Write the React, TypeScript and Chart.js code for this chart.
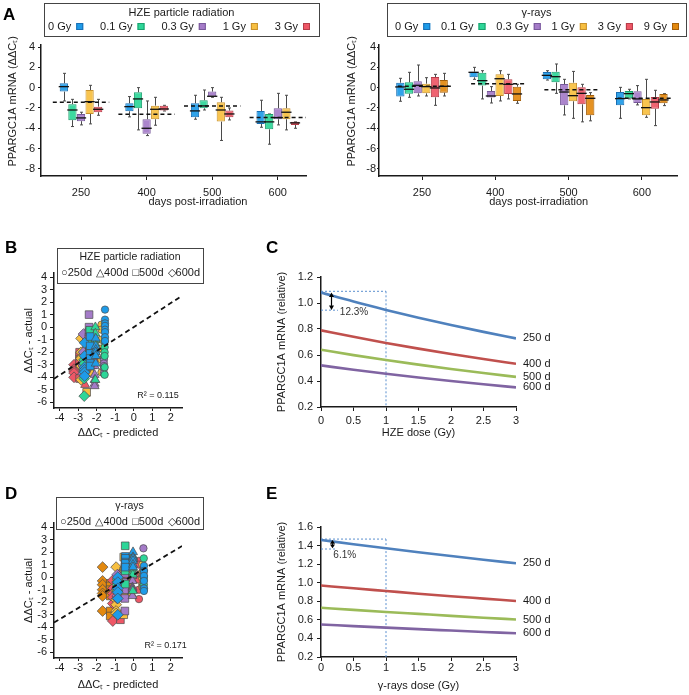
import React, { useEffect, useRef } from 'react';
import { Chart, registerables } from 'chart.js';

Chart.register(...registerables);

const FONT = "'Liberation Sans', Arial, Helvetica, sans-serif";
const INK = '#1a1a1a';

// ---------------- data ----------------
const DAYS = ['250', '400', '500', '600'];
const HZE_DOSES = ['0 Gy', '0.1 Gy', '0.3 Gy', '1 Gy', '3 Gy'];
const GAMMA_DOSES = ['0 Gy', '0.1 Gy', '0.3 Gy', '1 Gy', '3 Gy', '9 Gy'];

// box statistics per day (250, 400, 500, 600): [min, q1, median, q3, max]
const HZE_BOX_0 = [[-1.31, -0.39, 0.1, 0.43, 1.41], [-2.88, -2.33, -1.87, -1.54, -0.88], [-3.11, -2.92, -2.29, -1.54, -0.75], [-3.9, -3.57, -3.37, -2.29, -1.24]];
const HZE_BOX_01 = [[-3.83, -3.2, -2.2, -1.63, -1.15], [-4.16, -2.03, -1.11, -0.46, 0.0], [-2.2, -2.03, -1.8, -1.24, -0.23], [-5.57, -4.1, -3.37, -2.59, -2.59]];
const HZE_BOX_03 = [[-3.67, -3.3, -2.98, -2.59, -2.42], [-4.72, -4.55, -4.0, -3.11, -1.31], [-0.95, -0.88, -0.85, -0.39, 0.0], [-3.67, -3.11, -2.95, -2.03, -0.56]];
const HZE_BOX_1 = [[-3.57, -2.59, -1.38, -0.23, 0.23], [-3.7, -3.11, -2.13, -1.77, -0.95], [-5.2, -3.34, -2.2, -1.44, -0.95], [-4.16, -3.11, -2.42, -2.03, -0.75]];
const HZE_BOX_3 = [[-2.72, -2.42, -2.13, -1.87, -1.15], [-2.3, -2.26, -2.1, -1.77, -1.74], [-3.18, -2.92, -2.59, -2.26, -2.0], [-4.0, -3.67, -3.47, -3.37, -3.37]];
const HZE_BOXES = [HZE_BOX_0, HZE_BOX_01, HZE_BOX_03, HZE_BOX_1, HZE_BOX_3];
const HZE_MEAN = [-1.44, -2.62, -1.8, -2.95];

const GAMMA_BOX_0 = [[-1.34, -0.88, 0.07, 0.49, 0.92], [0.82, 1.02, 1.51, 1.57, 2.0], [0.75, 0.82, 1.21, 1.54, 1.67], [-3.02, -1.74, -1.08, -0.43, 0.03]];
const GAMMA_BOX_01 = [[-0.95, -0.59, -0.16, 0.52, 1.51], [-1.11, 0.2, 0.69, 1.47, 1.67], [-0.56, 0.52, 1.08, 1.57, 2.33], [-1.11, -1.05, -0.59, -0.33, -0.16]];
const GAMMA_BOX_03 = [[-0.82, -0.56, 0.23, 0.62, 2.23], [-1.51, -0.98, -0.82, -0.33, 0.1], [-2.69, -1.74, -0.43, 0.36, 0.82], [-1.7, -1.51, -1.11, -0.36, 0.2]];
const GAMMA_BOX_1 = [[-0.82, -0.56, 0.1, 0.39, 0.98], [-1.31, -0.82, 0.88, 1.31, 1.67], [-3.02, -1.34, -0.79, 0.49, 1.6], [-2.92, -2.72, -1.97, -1.11, 0.82]];
const GAMMA_BOX_3 = [[-1.74, -0.95, -0.03, 1.05, 1.31], [-1.11, -0.62, 0.33, 0.82, 1.31], [-3.37, -1.64, -0.56, 0.03, 0.33], [-3.74, -2.07, -1.41, -0.92, -0.26]];
const GAMMA_BOX_9 = [[-0.82, -0.49, 0.13, 0.75, 1.41], [-1.54, -1.31, -0.62, 0.1, 0.33], [-3.27, -2.72, -1.05, -0.72, -0.49], [-1.77, -1.54, -1.21, -0.62, -0.59]];
const GAMMA_BOXES = [GAMMA_BOX_0, GAMMA_BOX_01, GAMMA_BOX_03, GAMMA_BOX_1, GAMMA_BOX_3, GAMMA_BOX_9];
const GAMMA_MEAN = [0.13, 0.39, -0.2, -1.05];

// scatter: predicted value per dose, actual values per dose
const HZE_PRED_250 = [-1.55, -1.57, -1.61, -1.74, -2.12];
const HZE_PRED_400 = [-2.05, -2.07, -2.11, -2.24, -2.62];
const HZE_PRED_500 = [-2.35, -2.37, -2.41, -2.54, -2.92];
const HZE_PRED_600 = [-2.65, -2.67, -2.71, -2.84, -3.22];
const HZE_ACT_250 = [[1.4, 0.6, 0.3, 0.1, -0.2, -0.4, -0.8, -1.1], [-1.15, -1.6, -2.0, -2.3, -3.2, -3.8], [-2.4, -2.6, -2.9, -3.1, -3.3, -3.7], [0.2, -0.2, -1.0, -1.7, -2.6, -3.6], [-1.15, -1.9, -2.1, -2.2, -2.4, -2.7]];
const HZE_ACT_400 = [[-0.9, -1.5, -1.8, -2.0, -2.3, -2.9], [0.0, -0.5, -1.0, -1.3, -2.0, -4.2], [-1.3, -3.1, -3.8, -4.2, -4.5, -4.7], [-0.95, -1.8, -2.0, -2.3, -3.1, -3.7], [-1.75, -2.0, -2.15, -2.3, -4.6]];
const HZE_ACT_500 = [[-0.75, -1.5, -2.1, -2.5, -2.9, -3.1], [-0.25, -1.2, -1.7, -1.9, -2.0, -2.2], [1.0, 0.0, -0.4, -0.8, -0.95], [-0.95, -1.4, -2.0, -2.4, -3.3, -5.2], [-2.0, -2.3, -2.6, -2.9, -4.1]];
const HZE_ACT_600 = [[-1.25, -2.3, -3.2, -3.4, -3.6, -3.9], [-2.6, -2.9, -3.3, -3.5, -4.1, -5.5], [-0.55, -2.0, -2.8, -3.0, -3.1, -3.7], [-0.9, -2.0, -2.4, -2.5, -3.1, -4.2], [-3.0, -3.35, -3.5, -3.65, -4.0]];
const HZE_PRED = [HZE_PRED_250, HZE_PRED_400, HZE_PRED_500, HZE_PRED_600];
const HZE_ACT = [HZE_ACT_250, HZE_ACT_400, HZE_ACT_500, HZE_ACT_600];
const HZE_FIT_X = [-4.3, 2.6];
const HZE_FIT_Y = [-4.12, 2.5];
const HZE_R2 = 'R² = 0.115';

const GAMMA_PRED_250 = [0.55, 0.54, 0.52, 0.46, 0.28, -0.27];
const GAMMA_PRED_400 = [-0.04, -0.05, -0.07, -0.13, -0.31, -0.86];
const GAMMA_PRED_500 = [-0.45, -0.46, -0.48, -0.54, -0.72, -1.27];
const GAMMA_PRED_600 = [-0.86, -0.87, -0.89, -0.95, -1.13, -1.68];
const GAMMA_ACT_250 = [[0.9, 0.5, 0.1, -0.3, -0.9, -1.1], [1.5, 0.5, 0.0, -0.2, -0.6, -0.95], [2.3, 0.6, 0.3, 0.1, -0.6, -0.8], [1.0, 0.4, 0.1, -0.1, -0.6, -0.8], [1.3, 1.0, 0.2, -0.2, -1.0, -1.75], [1.4, 0.75, 0.2, 0.0, -0.5, -0.8]];
const GAMMA_ACT_400 = [[2.0, 1.6, 1.5, 1.3, 1.0, 0.8], [1.7, 1.4, 0.7, 0.4, 0.2, -1.1], [0.1, -0.3, -0.8, -0.9, -1.0, -1.5], [1.7, 1.3, 1.0, 0.5, -0.8, -1.3], [1.3, 0.8, 0.4, 0.1, -0.6, -1.1], [0.3, 0.1, -0.5, -0.8, -1.3, -1.55]];
const GAMMA_ACT_500 = [[1.65, 1.5, 1.2, 1.1, 0.8], [2.5, 1.5, 1.1, 0.9, 0.5, -0.55], [0.8, 0.3, -0.4, -1.0, -1.7, -2.7], [1.6, 0.5, -0.5, -0.9, -1.3, -3.0], [0.3, 0.0, -0.5, -0.9, -1.6, -3.4], [-0.5, -0.7, -1.0, -1.5, -2.7, -3.1]];
const GAMMA_ACT_600 = [[0.0, -0.4, -0.9, -1.2, -1.7, -3.0], [-0.15, -0.35, -0.6, -0.8, -1.1], [0.2, -0.4, -0.9, -1.2, -1.5, -1.7], [0.8, -1.1, -1.8, -2.2, -2.7, -2.9], [-0.25, -0.9, -1.3, -1.6, -2.1, -3.5], [0.8, -0.3, -0.6, -1.0, -1.3, -1.5, -2.7]];
const GAMMA_PRED = [GAMMA_PRED_250, GAMMA_PRED_400, GAMMA_PRED_500, GAMMA_PRED_600];
const GAMMA_ACT = [GAMMA_ACT_250, GAMMA_ACT_400, GAMMA_ACT_500, GAMMA_ACT_600];
const GAMMA_FIT_X = [-4.3, 2.6];
const GAMMA_FIT_Y = [-3.62, 2.48];
const GAMMA_R2 = 'R² = 0.171';

// dose–response curves
const DOSE_X = [0, 0.5, 1, 1.5, 2, 2.5, 3];
const HZE_REL_250 = [1.08, 1.011, 0.947, 0.887, 0.831, 0.778, 0.728];
const HZE_REL_400 = [0.79, 0.74, 0.693, 0.649, 0.608, 0.569, 0.533];
const HZE_REL_500 = [0.64, 0.599, 0.561, 0.526, 0.492, 0.461, 0.432];
const HZE_REL_600 = [0.52, 0.487, 0.456, 0.427, 0.4, 0.375, 0.351];
const HZE_REL = [HZE_REL_250, HZE_REL_400, HZE_REL_500, HZE_REL_600];
const HZE_DROP = '12.3%';
const GAMMA_REL_250 = [1.46, 1.415, 1.371, 1.328, 1.287, 1.247, 1.209];
const GAMMA_REL_400 = [0.97, 0.94, 0.911, 0.882, 0.855, 0.829, 0.803];
const GAMMA_REL_500 = [0.73, 0.707, 0.685, 0.664, 0.643, 0.623, 0.604];
const GAMMA_REL_600 = [0.55, 0.533, 0.516, 0.5, 0.485, 0.47, 0.455];
const GAMMA_REL = [GAMMA_REL_250, GAMMA_REL_400, GAMMA_REL_500, GAMMA_REL_600];
const GAMMA_DROP = '6.1%';

// ---------------- styles ----------------
const DOSE_FILL = ['#1E9BE8', '#2DD698', '#A47BC8', '#F7BF40', '#EE5766', '#E3890F'];
const DOSE_EDGE = ['#1A6FB4', '#1A9E6C', '#77589A', '#C8912B', '#B53D49', '#A5600A'];
const DAY_STYLE = ['circle', 'triangle', 'rect', 'rectRot'];
const DAY_RADIUS = [3.7, 5.2, 5.4, 5.4];
const DAY_GLYPH = ['○', '△', '□', '◇'];
const CURVE_COLORS = ['#4F81BD', '#C0504D', '#9BBB59', '#8064A2'];
const GUIDE_COLOR = '#5B8FCF';

function rgba(hex: string, a: number) {
  const n = parseInt(hex.slice(1), 16);
  return `rgba(${(n >> 16) & 255},${(n >> 8) & 255},${n & 255},${a})`;
}

type Area = { l: number; t: number; r: number; b: number };

function axisBase(tickLen: number, pad: number, size = 11) {
  return {
    border: { display: true, color: INK, width: 1.5 },
    grid: { display: true, drawOnChartArea: false, drawTicks: true, tickLength: tickLen, color: INK, lineWidth: 1, offset: false },
    ticks: { color: INK, padding: pad, font: { family: FONT, size }, includeBounds: false, autoSkip: false, maxRotation: 0, callback: (v: any) => String(v) },
  };
}
function yTitle(text: string, pad: number) {
  return { display: true, text, color: INK, font: { family: FONT, size: 11 }, padding: { top: pad, bottom: 0 } };
}
function xTitle(text: string) {
  return { display: true, text, color: INK, font: { family: FONT, size: 11 }, padding: { top: 0, bottom: 0 } };
}
function fixX(h: number) {
  return (s: any) => { s.height = h; s.paddingLeft = 0; s.paddingRight = 0; };
}
function fixY(w: number) {
  return (s: any) => { s.width = w; s.paddingTop = 0; s.paddingBottom = 0; };
}
function baseOptions(W: number, a: Area) {
  return {
    animation: false,
    responsive: false,
    events: [],
    layout: { padding: { left: 0, top: a.t, right: W - a.r, bottom: 0 } },
  };
}

// ---------------- plugins ----------------
const boxExtras = {
  id: 'boxExtras',
  beforeDatasetsDraw(chart: any) {
    const { ctx } = chart;
    const ys = chart.scales.y;
    ctx.save();
    ctx.strokeStyle = '#4a4a4a';
    ctx.lineWidth = 1;
    chart.data.datasets.forEach((ds: any, i: number) => {
      chart.getDatasetMeta(i).data.forEach((el: any, j: number) => {
        const s = ds.stats[j];
        const x = Math.round(el.x) + 0.5;
        ctx.beginPath();
        ctx.moveTo(x, ys.getPixelForValue(s[3]));
        ctx.lineTo(x, ys.getPixelForValue(s[4]));
        ctx.moveTo(x, ys.getPixelForValue(s[1]));
        ctx.lineTo(x, ys.getPixelForValue(s[0]));
        ctx.moveTo(x - 1.5, ys.getPixelForValue(s[4]));
        ctx.lineTo(x + 1.5, ys.getPixelForValue(s[4]));
        ctx.moveTo(x - 1.5, ys.getPixelForValue(s[0]));
        ctx.lineTo(x + 1.5, ys.getPixelForValue(s[0]));
        ctx.stroke();
      });
    });
    ctx.restore();
  },
  afterDatasetsDraw(chart: any, _a: any, opts: any) {
    const { ctx } = chart;
    const ys = chart.scales.y;
    const xs = chart.scales.x;
    ctx.save();
    ctx.strokeStyle = '#111';
    ctx.lineWidth = 1.3;
    chart.data.datasets.forEach((ds: any, i: number) => {
      chart.getDatasetMeta(i).data.forEach((el: any, j: number) => {
        const y = ys.getPixelForValue(ds.stats[j][2]);
        ctx.beginPath();
        ctx.moveTo(el.x - el.width / 2 - 1, y);
        ctx.lineTo(el.x + el.width / 2 + 1, y);
        ctx.stroke();
      });
    });
    const step = xs.getPixelForValue(1) - xs.getPixelForValue(0);
    ctx.setLineDash([4, 3]);
    ctx.lineWidth = 1.5;
    (opts.means || []).forEach((m: number, j: number) => {
      const cx = xs.getPixelForValue(j) + opts.shift * step;
      const y = ys.getPixelForValue(m);
      ctx.beginPath();
      ctx.moveTo(cx - opts.half * step, y);
      ctx.lineTo(cx + opts.half * step, y);
      ctx.stroke();
    });
    ctx.restore();
  },
};

const doseLegend = {
  id: 'doseLegend',
  afterDraw(chart: any, _a: any, o: any) {
    const { ctx } = chart;
    const [l, t, r, b] = o.box;
    ctx.save();
    ctx.fillStyle = '#fff';
    ctx.fillRect(l, t, r - l, b - t);
    ctx.strokeStyle = '#444';
    ctx.lineWidth = 1;
    ctx.strokeRect(l + 0.5, t + 0.5, r - l, b - t);
    ctx.font = `11px ${FONT}`;
    ctx.fillStyle = INK;
    ctx.textBaseline = 'middle';
    ctx.textAlign = 'center';
    ctx.fillText(o.title, (l + r) / 2, t + o.titleDy);
    const items = chart.data.datasets.map((d: any, i: number) => ({ label: d.label, fill: DOSE_FILL[i], edge: DOSE_EDGE[i] }));
    const sq = 7, gap = 5;
    const tw = items.map((it: any) => ctx.measureText(it.label).width);
    const total = tw.reduce((s: number, w: number) => s + w + gap + sq, 0);
    const inner = r - o.padR - (l + o.padL);
    const space = (inner - total) / (items.length - 1);
    let x = l + o.padL;
    const y = t + o.itemDy;
    ctx.textAlign = 'left';
    items.forEach((it: any, i: number) => {
      ctx.fillStyle = INK;
      ctx.fillText(it.label, x, y);
      const sx = x + tw[i] + gap;
      ctx.fillStyle = it.fill;
      ctx.fillRect(sx, y - sq / 2, sq, sq);
      ctx.strokeStyle = it.edge;
      ctx.strokeRect(sx + 0.5, y - sq / 2 + 0.5, sq - 1, sq - 1);
      x = sx + sq + space;
    });
    ctx.restore();
  },
};

const dayLegend = {
  id: 'dayLegend',
  afterDraw(chart: any, _a: any, o: any) {
    const { ctx } = chart;
    const [l, t, r, b] = o.box;
    ctx.save();
    ctx.fillStyle = '#fff';
    ctx.fillRect(l, t, r - l, b - t);
    ctx.strokeStyle = '#444';
    ctx.lineWidth = 1;
    ctx.strokeRect(l + 0.5, t + 0.5, r - l, b - t);
    ctx.font = `10.5px ${FONT}`;
    ctx.fillStyle = INK;
    ctx.textBaseline = 'middle';
    ctx.textAlign = 'center';
    ctx.fillText(o.title, (l + r) / 2, t + o.titleDy);
    const items = DAYS.map((d, i) => DAY_GLYPH[i] + d + 'd');
    ctx.font = `11px ${FONT}`;
    const tw = items.map((s) => ctx.measureText(s).width);
    const total = tw.reduce((s, w) => s + w, 0);
    const inner = r - 3 - (l + 4);
    const space = (inner - total) / (items.length - 1);
    let x = l + 4;
    ctx.textAlign = 'left';
    items.forEach((s, i) => {
      ctx.fillText(s, x, t + o.itemDy);
      x += tw[i] + space;
    });
    ctx.restore();
  },
};

const noteText = {
  id: 'noteText',
  afterDatasetsDraw(chart: any, _a: any, o: any) {
    const { ctx } = chart;
    const xs = chart.scales.x, ys = chart.scales.y;
    ctx.save();
    ctx.fillStyle = INK;
    ctx.font = `9px ${FONT}`;
    ctx.textAlign = 'right';
    ctx.textBaseline = 'middle';
    ctx.fillText(o.text, xs.getPixelForValue(o.x), ys.getPixelForValue(o.y));
    ctx.restore();
  },
};

const curveNotes = {
  id: 'curveNotes',
  afterDatasetsDraw(chart: any, _a: any, o: any) {
    const { ctx } = chart;
    const xs = chart.scales.x, ys = chart.scales.y;
    ctx.save();
    ctx.fillStyle = INK;
    ctx.font = `11px ${FONT}`;
    ctx.textAlign = 'left';
    ctx.textBaseline = 'middle';
    chart.data.datasets.forEach((ds: any, i: number) => {
      if (!ds.endLabel) return;
      const pts = chart.getDatasetMeta(i).data;
      const p = pts[pts.length - 1];
      ctx.fillText(ds.endLabel, p.x + 7, p.y);
    });
    // double arrow
    const ax = Math.round(xs.getPixelForValue(o.arrowX)) + 0.5;
    const y1 = ys.getPixelForValue(o.from);
    const y2 = ys.getPixelForValue(o.to);
    const hl = Math.min(4, Math.abs(y2 - y1) / 2.5);
    ctx.strokeStyle = '#000';
    ctx.lineWidth = 1.2;
    ctx.beginPath();
    ctx.moveTo(ax, y1 + hl);
    ctx.lineTo(ax, y2 - hl);
    ctx.stroke();
    ctx.fillStyle = '#000';
    ctx.beginPath();
    ctx.moveTo(ax, y1); ctx.lineTo(ax - 2.5, y1 + hl + 0.5); ctx.lineTo(ax + 2.5, y1 + hl + 0.5); ctx.closePath();
    ctx.moveTo(ax, y2); ctx.lineTo(ax - 2.5, y2 - hl - 0.5); ctx.lineTo(ax + 2.5, y2 - hl - 0.5); ctx.closePath();
    ctx.fill();
    ctx.fillStyle = '#333';
    ctx.font = `10px ${FONT}`;
    ctx.fillText(o.label, xs.getPixelForValue(o.labelX), ys.getPixelForValue(o.to) + o.labelDy);
    ctx.restore();
  },
};

// ---------------- chart factories ----------------
function boxChart(p: any) {
  const W = p.W, H = p.H, a: Area = p.area;
  const datasets = p.doses.map((label: string, i: number) => ({
    label,
    data: p.boxes[i].map((s: number[], j: number) => ({ x: j, y: [s[1], s[3]] })),
    stats: p.boxes[i],
    backgroundColor: rgba(DOSE_FILL[i], 0.92),
    borderColor: DOSE_EDGE[i],
    borderWidth: 1,
    borderSkipped: false,
    categoryPercentage: p.catPct,
    barPercentage: 0.96,
  }));
  const xa: any = axisBase(p.xTick[0], p.xTick[1]);
  const ya: any = axisBase(p.yTick[0], p.yTick[1]);
  return {
    type: 'bar',
    data: { datasets },
    options: {
      ...baseOptions(W, a),
      plugins: {
        legend: { display: false },
        tooltip: { enabled: false },
        boxExtras: { means: p.means, half: p.meanHalf, shift: p.meanShift },
        doseLegend: { box: p.legendBox, title: p.legendTitle, titleDy: 9.5, itemDy: 23.5, padL: p.padL, padR: p.padR },
      },
      scales: {
        x: {
          ...xa,
          type: 'linear',
          min: p.xMin,
          max: p.xMax,
          offset: false,
          afterBuildTicks: (s: any) => { s.ticks = DAYS.map((_d, i) => ({ value: i })); },
          afterFit: fixX(H - a.b),
          ticks: { ...xa.ticks, callback: (v: any) => DAYS[v] ?? '' },
          title: xTitle(p.xTitle),
        },
        y: {
          ...ya,
          type: 'linear',
          min: -8.7,
          max: 4.2,
          afterFit: fixY(a.l),
          ticks: { ...ya.ticks, stepSize: 2 },
          title: yTitle(p.yTitle, p.yTitlePad),
        },
      },
    },
    plugins: [boxExtras, doseLegend],
  };
}

function scatterChart(p: any) {
  const W = p.W, H = p.H, a: Area = p.area;
  const datasets: any[] = [
    {
      type: 'line',
      data: [{ x: p.fitX[0], y: p.fitY[0] }, { x: p.fitX[1], y: p.fitY[1] }],
      borderColor: '#111',
      borderWidth: 1.8,
      borderDash: [5, 3.5],
      pointRadius: 0,
      fill: false,
    },
  ];
  for (let k = 0; k < p.doses.length; k++) {
    for (let d = 0; d < DAYS.length; d++) {
      datasets.push({
        type: 'scatter',
        data: p.act[d][k].map((v: number) => ({ x: p.pred[d][k], y: v })),
        pointStyle: DAY_STYLE[d],
        pointRadius: DAY_RADIUS[d],
        backgroundColor: DOSE_FILL[k],
        borderColor: '#4a4a4a',
        borderWidth: 0.7,
      });
    }
  }
  const xa: any = axisBase(3, 0);
  const ya: any = axisBase(4, 3);
  return {
    type: 'scatter',
    data: { datasets },
    options: {
      ...baseOptions(W, a),
      plugins: {
        legend: { display: false },
        tooltip: { enabled: false },
        dayLegend: { box: p.legendBox, title: p.legendTitle, titleDy: 9, itemDy: 25 },
        noteText: { text: p.r2, x: p.r2x, y: p.r2y },
      },
      scales: {
        x: { ...xa, type: 'linear', min: -4.3, max: 2.6, afterFit: fixX(H - a.b), ticks: { ...xa.ticks, stepSize: 1 }, title: xTitle('ΔΔCₜ - predicted') },
        y: { ...ya, type: 'linear', min: -6.45, max: 4.32, afterFit: fixY(a.l), ticks: { ...ya.ticks, stepSize: 1 }, title: yTitle('ΔΔCₜ - actual', 22.4) },
      },
    },
    plugins: [dayLegend, noteText],
  };
}

function curveChart(p: any) {
  const W = p.W, H = p.H, a: Area = p.area;
  const top = p.rel[0];
  const guide = (pts: any[]) => ({
    data: pts,
    borderColor: GUIDE_COLOR,
    borderWidth: 1,
    borderDash: [2, 2],
    pointRadius: 0,
    fill: false,
  });
  const datasets: any[] = p.rel.map((vals: number[], i: number) => ({
    data: DOSE_X.map((x, j) => ({ x, y: vals[j] })),
    borderColor: CURVE_COLORS[i],
    borderWidth: 2.6,
    pointRadius: 0,
    tension: 0.4,
    cubicInterpolationMode: 'monotone',
    fill: false,
    endLabel: DAYS[i] + ' d',
  }));
  datasets.push(guide([{ x: DOSE_X[0], y: top[0] + p.guidePad }, { x: DOSE_X[2], y: top[0] + p.guidePad }]));
  datasets.push(guide([{ x: DOSE_X[2], y: top[0] + p.guidePad }, { x: DOSE_X[2], y: p.yMin }]));
  datasets.push(guide([{ x: DOSE_X[0], y: top[2] - p.guideLow }, { x: p.shortX, y: top[2] - p.guideLow }]));
  const xa: any = axisBase(4, p.xPad);
  const ya: any = axisBase(4, 4);
  return {
    type: 'line',
    data: { datasets },
    options: {
      ...baseOptions(W, a),
      plugins: {
        legend: { display: false },
        tooltip: { enabled: false },
        curveNotes: { arrowX: p.arrowX, from: top[0], to: top[2], label: p.drop, labelX: p.labelX, labelDy: p.labelDy },
      },
      scales: {
        x: { ...xa, type: 'linear', min: 0, max: 3, afterFit: fixX(H - a.b), ticks: { ...xa.ticks, stepSize: 0.5 }, title: xTitle(p.xTitle) },
        y: {
          ...ya, type: 'linear', min: p.yMin, max: p.yMax, afterFit: fixY(a.l),
          ticks: { ...ya.ticks, stepSize: 0.2, callback: (v: any) => Number(v).toFixed(1) },
          title: yTitle('PPARGC1A mRNA (relative)', 25.4),
        },
      },
    },
    plugins: [curveNotes],
  };
}

const Y_TITLE_A = '      PPARGC1A mRNA (ΔΔCₜ)';

const PANELS: any[] = [
  {
    left: 0, top: 0, W: 345, H: 209,
    make: () => boxChart({
      W: 345, H: 209, area: { l: 41, t: 45, r: 306, b: 176 }, doses: HZE_DOSES, boxes: HZE_BOXES, means: HZE_MEAN,
      meanHalf: 0.43, meanShift: 0.0, catPct: 0.655, xMin: -0.61, xMax: 3.43, xTick: [4, 6], yTick: [3, 3],
      xTitle: '                days post-irradiation', yTitle: Y_TITLE_A, yTitlePad: 6.4,
      legendBox: [44, 3, 319, 36], legendTitle: 'HZE particle radiation', padL: 4, padR: 9,
    }),
  },
  {
    left: 344, top: 0, W: 345, H: 209,
    make: () => boxChart({
      W: 345, H: 209, area: { l: 35, t: 45, r: 333, b: 176 }, doses: GAMMA_DOSES, boxes: GAMMA_BOXES, means: GAMMA_MEAN,
      meanHalf: 0.38, meanShift: 0.05, catPct: 0.71, xMin: -0.587, xMax: 3.48, xTick: [4, 6], yTick: [2, 1],
      xTitle: '       days post-irradiation', yTitle: Y_TITLE_A, yTitlePad: 1.7,
      legendBox: [43, 3, 342, 36], legendTitle: 'γ-rays', padL: 8, padR: 7,
    }),
  },
  {
    left: 0, top: 225, W: 250, H: 215,
    make: () => scatterChart({
      W: 250, H: 215, area: { l: 54, t: 48, r: 182, b: 183 }, doses: HZE_DOSES, pred: HZE_PRED, act: HZE_ACT,
      fitX: HZE_FIT_X, fitY: HZE_FIT_Y, r2: HZE_R2, r2x: 2.43, r2y: -5.42,
      legendBox: [57, 23, 203, 58], legendTitle: 'HZE particle radiation',
    }),
  },
  {
    left: 0, top: 470, W: 250, H: 222,
    make: () => scatterChart({
      W: 250, H: 222, area: { l: 54, t: 53, r: 182, b: 188 }, doses: GAMMA_DOSES, pred: GAMMA_PRED, act: GAMMA_ACT,
      fitX: GAMMA_FIT_X, fitY: GAMMA_FIT_Y, r2: GAMMA_R2, r2x: 2.86, r2y: -5.44,
      legendBox: [56, 27, 203, 59], legendTitle: 'γ-rays',
    }),
  },
  {
    left: 250, top: 225, W: 439, H: 215,
    make: () => curveChart({
      W: 439, H: 215, area: { l: 71, t: 52, r: 266, b: 182 }, rel: HZE_REL, yMin: 0.2, yMax: 1.2,
      guidePad: 0.01, guideLow: 0.002, shortX: 0.26, arrowX: 0.15, labelX: 0.29, labelDy: 2, drop: HZE_DROP,
      xTitle: 'HZE dose (Gy)', xPad: 3,
    }),
  },
  {
    left: 250, top: 470, W: 439, H: 223,
    make: () => curveChart({
      W: 439, H: 223, area: { l: 71, t: 57, r: 266, b: 187 }, rel: GAMMA_REL, yMin: 0.2, yMax: 1.6,
      guidePad: 0.01, guideLow: 0.008, shortX: 0.23, arrowX: 0.17, labelX: 0.19, labelDy: 7, drop: GAMMA_DROP,
      xTitle: 'γ-rays dose (Gy)', xPad: 0,
    }),
  },
];

const LETTERS = [
  { t: 'A', x: 3, y: 6 },
  { t: 'B', x: 5, y: 239 },
  { t: 'C', x: 266, y: 239 },
  { t: 'D', x: 5, y: 485 },
  { t: 'E', x: 266, y: 485 },
];

function ChartCanvas({ left, top, W, H, make }: any) {
  const ref = useRef<HTMLCanvasElement | null>(null);
  useEffect(() => {
    if (!ref.current) return;
    const chart = new Chart(ref.current, make());
    return () => chart.destroy();
  }, []);
  return (
    <canvas
      ref={ref}
      width={W}
      height={H}
      style={{ position: 'absolute', left, top, width: W, height: H, display: 'block' }}
    />
  );
}

export default function App() {
  return (
    <div style={{ position: 'absolute', left: 0, top: 0, width: 689, height: 695, background: '#fff', overflow: 'hidden' }}>
      {PANELS.map((p, i) => (
        <ChartCanvas key={i} {...p} />
      ))}
      {LETTERS.map((l) => (
        <div
          key={l.t}
          style={{ position: 'absolute', left: l.x, top: l.y, font: `bold 17px ${FONT}`, lineHeight: '17px', color: '#000' }}
        >
          {l.t}
        </div>
      ))}
    </div>
  );
}
